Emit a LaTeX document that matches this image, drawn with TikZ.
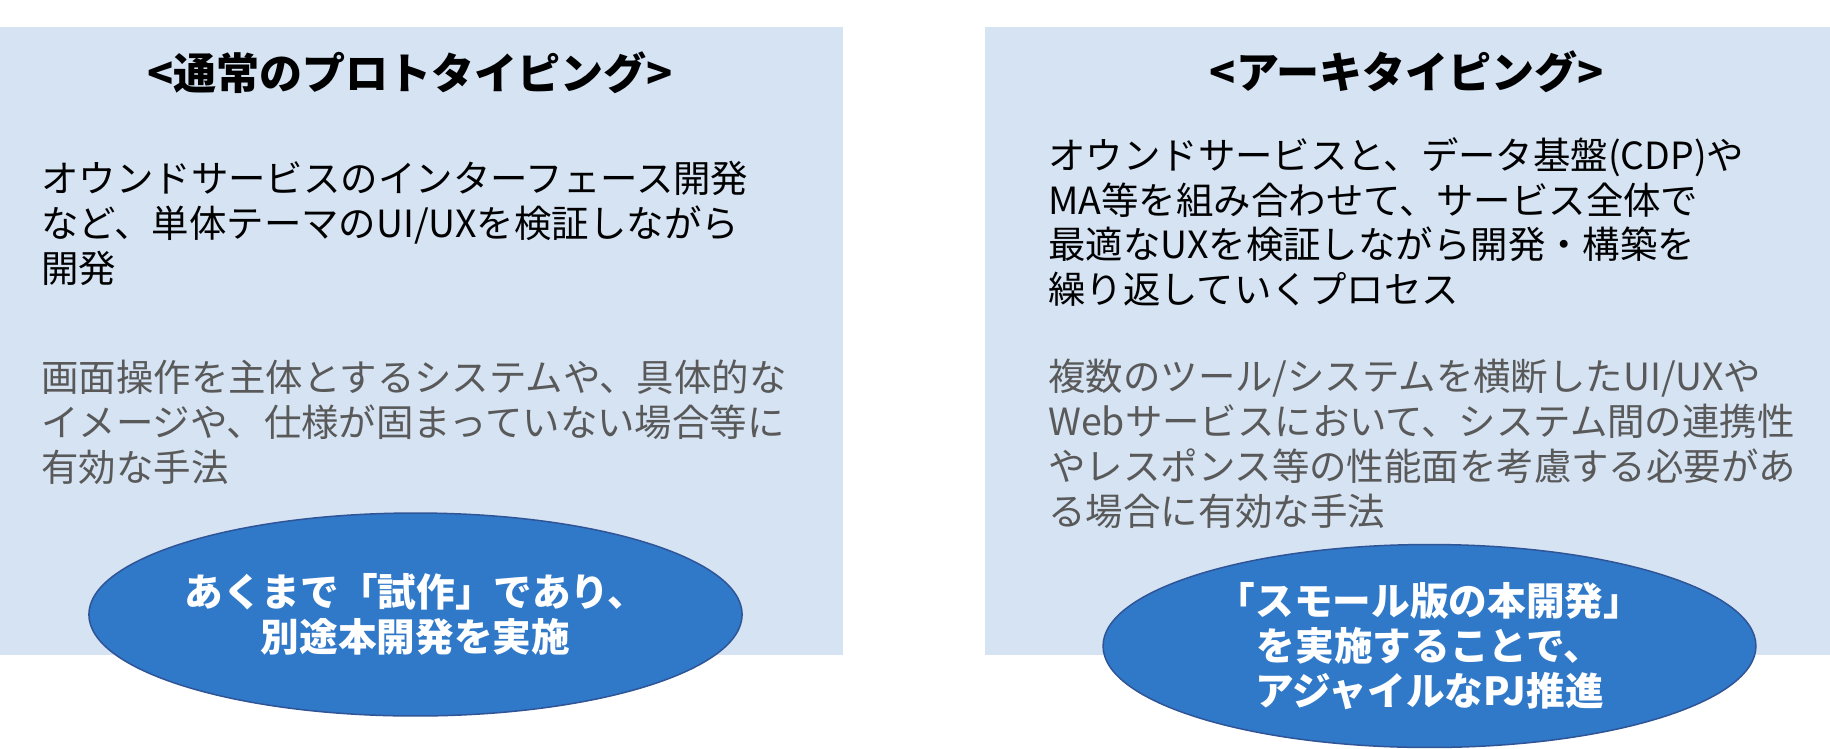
\documentclass[tikz,border=0pt]{standalone}
\usepackage{fontspec}
\setmainfont{Noto Sans CJK JP}
\usepackage{tikz}
\usetikzlibrary{shapes.geometric}
\definecolor{PanelBlue}{HTML}{D5E3F3}
\definecolor{OvalBlue}{HTML}{3079C9}
\definecolor{OvalEdge}{HTML}{2F5597}
\definecolor{NoteGray}{HTML}{595959}

\begin{document}
\begin{tikzpicture}[x=0.02cm,y=-0.02cm,
  panel/.style={fill=PanelBlue},
  heading/.style={inner sep=0pt,font=\fontsize{24.5}{29}\selectfont\bfseries},
  body/.style={anchor=west,align=left,inner sep=0pt,font=\fontsize{21.3}{25.6}\selectfont},
  note/.style={body,text=NoteGray},
  oval/.style={ellipse,draw=OvalEdge,line width=0.03cm,fill=OvalBlue,text=white,align=center,inner sep=0pt,
    minimum width=13.06cm,minimum height=4.06cm,font=\fontsize{22}{25.4}\selectfont\bfseries}]
  \useasboundingbox (0,0) rectangle (1830,748);
  \foreach \xa/\xb in {0/843, 985/1830} {
    \fill[panel] (\xa,27) rectangle (\xb,655);
  }
  \node[heading] (protoTitle) at (410,73) {<通常のプロトタイピング>};
  \node[heading] (archTitle) at (1407,72) {<アーキタイピング>};
  \node[body] (protoBody) at (41,223) {オウンドサービスのインターフェース開発\\など、単体テーマのUI/UXを検証しながら\\開発};
  \node[note] (protoNote) at (41,422) {画面操作を主体とするシステムや、具体的な\\イメージや、仕様が固まっていない場合等に\\有効な手法};
  \node[body] (archBody) at (1048,222) {オウンドサービスと、データ基盤(CDP)や\\MA等を組み合わせて、サービス全体で\\最適なUXを検証しながら開発・構築を\\繰り返していくプロセス};
  \node[note] (archNote) at (1048,444) {複数のツール/システムを横断したUI/UXや\\Webサービスにおいて、システム間の連携性\\やレスポンス等の性能面を考慮する必要があ\\る場合に有効な手法};
  \node[oval] (protoOval) at (415.5,614.5) {あくまで「試作」であり、\\別途本開発を実施};
  \node[oval] (archOval) at (1429.5,646) {「スモール版の本開発」\\を実施することで、\\アジャイルなPJ推進};
\end{tikzpicture}
\end{document}
